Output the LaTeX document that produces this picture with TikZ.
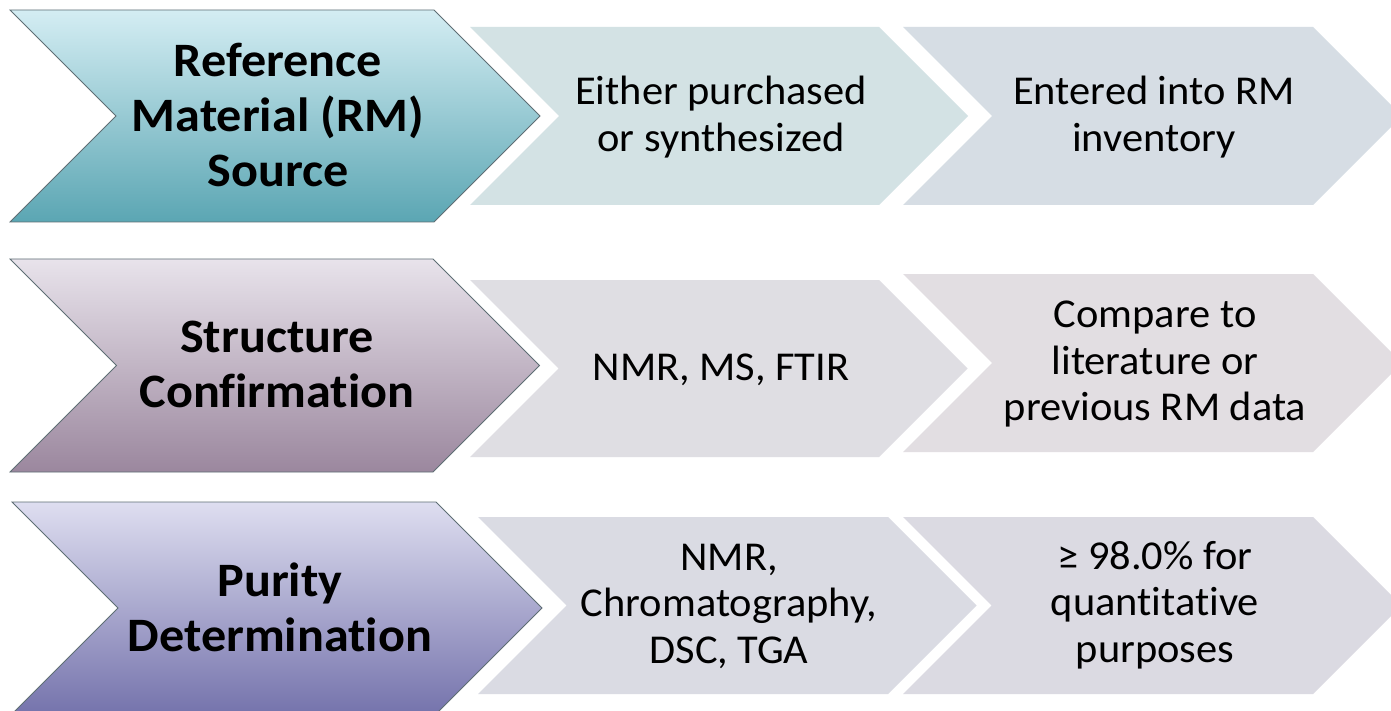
\documentclass[tikz,border=0pt]{standalone}
\usepackage{fontspec}
\setmainfont{Carlito}[Ligatures=NoCommon]
\newfontfamily\subfont{Carlito}[Ligatures=NoCommon, FakeStretch=1.035]
\newfontfamily\leadfont{Carlito}[Ligatures=NoCommon, FakeStretch=1.045, BoldFont={* Bold}]
\definecolor{leadline}{HTML}{5E6E74}
\definecolor{aTop}{HTML}{D4EDF3}
\definecolor{aMid}{HTML}{97D3E2}
\definecolor{aBot}{HTML}{5BA6B3}
\definecolor{bTop}{HTML}{E8E3EB}
\definecolor{bMid}{HTML}{C3B3C9}
\definecolor{bBot}{HTML}{9B879E}
\definecolor{cTop}{HTML}{DEDEF0}
\definecolor{cMid}{HTML}{A5A5D7}
\definecolor{cBot}{HTML}{7573AC}
\definecolor{fillBa}{HTML}{D3E2E4}
\definecolor{fillCa}{HTML}{D6DDE4}
\definecolor{fillBb}{HTML}{DFDEE3}
\definecolor{fillCb}{HTML}{E2DEE2}
\definecolor{fillBc}{HTML}{DADBE3}
\definecolor{fillCc}{HTML}{DBDAE2}
\begin{document}
\begin{tikzpicture}[x=1pt,y=-1pt,
  leadshape/.style={draw=leadline, line width=0.8pt},
  leadtext/.style={font=\leadfont\fontsize{48}{55}\selectfont\bfseries, align=center, inner sep=0pt, text=black},
  subtext/.style={font=\subfont\fontsize{41}{46.5}\selectfont, align=center, inner sep=0pt, text=black}]
\useasboundingbox (0,0) rectangle (1391,711);
\fill[white] (0,0) rectangle (1391,711);
\clip (0,0) rectangle (1391,711);
% row 1
\path[leadshape, top color=aTop, middle color=aMid, bottom color=aBot]
  (10,10) -- (434,10) -- (540,116) -- (434,222) -- (10,222) -- (116,116) -- cycle;
\fill[fillBa] (470,27) -- (879,27) -- (968,116) -- (879,205) -- (470,205) -- (559,116) -- cycle;
\fill[fillCa] (903,27) -- (1313,27) -- (1402,116) -- (1313,205) -- (903,205) -- (992,116) -- cycle;
% row 2
\path[leadshape, top color=bTop, middle color=bMid, bottom color=bBot]
  (10,259) -- (433,259) -- (539.5,365.5) -- (433,472) -- (10,472) -- (116.5,365.5) -- cycle;
\fill[fillBb] (470,280) -- (879,280) -- (967.5,368.5) -- (879,457) -- (470,457) -- (558.5,368.5) -- cycle;
\fill[fillCb] (903,274) -- (1313,274) -- (1402,363) -- (1313,452) -- (903,452) -- (992,363) -- cycle;
% row 3
\path[leadshape, top color=cTop, middle color=cMid, bottom color=cBot]
  (12,502) -- (436,502) -- (542,608) -- (436,714) -- (12,714) -- (118,608) -- cycle;
\fill[fillBc] (478,517) -- (888,517) -- (976.5,605.5) -- (888,694) -- (478,694) -- (566.5,605.5) -- cycle;
\fill[fillCc] (903,517) -- (1313,517) -- (1401.5,605.5) -- (1313,694) -- (903,694) -- (991.5,605.5) -- cycle;
% texts
\node[leadtext] (t1) at (278,115) {Reference\\Material (RM)\\Source};
\node[subtext] (u1) at (721,117) {Either purchased\\or synthesized};
\node[subtext] (v1) at (1154,117) {Entered into RM\\inventory};
\node[leadtext] (t2) at (277,364) {Structure\\Confirmation};
\node[subtext] (u2) at (721,370) {NMR, MS, FTIR};
\node[subtext] (v2) at (1155,364) {Compare to\\literature or\\previous RM data};
\node[leadtext] (t3) at (280,607) {Purity\\Determination};
\node[subtext] (u3) at (729,606) {NMR,\\Chromatography,\\DSC, TGA};
\node[subtext] (v3) at (1155,605) {≥ 98.0\% for\\quantitative\\purposes};
\end{tikzpicture}
\end{document}
